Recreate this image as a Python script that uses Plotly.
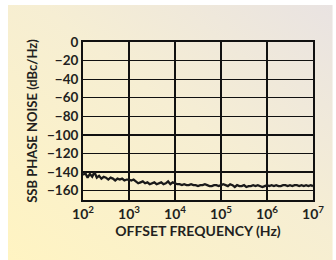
import base64
import plotly.graph_objects as go

# Offset frequency exponents (log10 Hz), 20 points per decade
freq_exp = [2 + i / 20 for i in range(101)]
freq_hz = [10 ** e for e in freq_exp]

# SSB phase noise readings (dBc/Hz)
noise_dbc = [
    -143, -141, -146, -142, -145, -140, -146, -144, -147, -145,
    -146, -148, -146, -147, -149, -147, -148, -147, -149, -148,
    -148, -149, -148, -150, -152, -151, -150, -152, -151, -153,
    -152, -151, -153, -152, -151, -153, -152, -150, -153, -151,
    -152, -153, -153, -154, -153, -154, -154, -153, -154, -154,
    -155, -154, -154, -153, -154, -155, -155, -154, -154, -155,
    -154, -153, -154, -155, -153, -154, -156, -154, -155, -155,
    -154, -156, -155, -155, -154, -155, -154, -155, -156, -155,
    -154, -155, -154, -155, -154, -155, -155, -154, -154, -155,
    -154, -155, -154, -154, -155, -154, -155, -154, -155, -154,
    -155,
]

x_tickvals = [1e2, 1e3, 1e4, 1e5, 1e6, 1e7]
x_ticktext = ["10<sup>2</sup>", "10<sup>3</sup>", "10<sup>4</sup>",
              "10<sup>5</sup>", "10<sup>6</sup>", "10<sup>7</sup>"]
y_tickvals = [0, -20, -40, -60, -80, -100, -120, -140, -160]
y_ticktext = ["0", "\u221220", "\u221240", "\u221260", "\u221280",
              "\u2212100", "\u2212120", "\u2212140", "\u2212160"]

FONT = "Lato"
INK = "#231f20"

svg = (
    '<svg xmlns="http://www.w3.org/2000/svg" width="329" height="255" '
    'preserveAspectRatio="none" viewBox="0 0 329 255">'
    '<defs><linearGradient id="g" x1="0" y1="1" x2="1" y2="0">'
    '<stop offset="0" stop-color="#fff4c2"/>'
    '<stop offset="0.55" stop-color="#f6eed3"/>'
    '<stop offset="1" stop-color="#e9e3e2"/>'
    '</linearGradient></defs>'
    '<rect width="329" height="255" fill="url(#g)"/></svg>'
)
bg_src = "data:image/svg+xml;base64," + base64.b64encode(svg.encode()).decode()

fig = go.Figure()
fig.add_trace(go.Scatter(
    x=freq_hz, y=noise_dbc, mode="lines",
    line=dict(color="#1a1a1a", width=2.3),
    showlegend=False, hoverinfo="skip",
))

L, R, T, B = 83, 20, 42, 60
W, H = 336, 260
pw, ph = W - L - R, H - T - B

fig.add_layout_image(dict(
    source=bg_src, xref="paper", yref="paper",
    x=(7 - L) / pw, y=(H - B - 5) / ph,
    sizex=(W - 7) / pw, sizey=(H - 5) / ph,
    sizing="stretch", xanchor="left", yanchor="top", layer="below",
))

fig.update_layout(
    width=W, height=H,
    margin=dict(l=L, r=R, t=T, b=B),
    paper_bgcolor="white", plot_bgcolor="white",
    font=dict(family=FONT, color=INK),
    xaxis=dict(
        type="log", range=[2, 7],
        tickvals=x_tickvals, ticktext=x_ticktext,
        tickfont=dict(size=14, family=FONT, weight="bold", color=INK),
        showgrid=True, gridcolor="#111", gridwidth=1.3,
        showline=True, linecolor="#111", linewidth=2, mirror=True,
        ticks="", ticklen=0,
        title=dict(text="OFFSET FREQUENCY (Hz)", standoff=4,
                   font=dict(size=14, family=FONT, weight="bold", color=INK)),
        zeroline=False,
    ),
    yaxis=dict(
        range=[-170, 0],
        tickvals=y_tickvals, ticktext=y_ticktext,
        tickfont=dict(size=13.5, family=FONT, weight="bold", color=INK),
        showgrid=True, gridcolor="#111", gridwidth=1.3,
        showline=True, linecolor="#111", linewidth=2, mirror=True,
        ticks="", ticklen=0,
        title=dict(text="SSB PHASE NOISE (dBc/Hz)", standoff=6,
                   font=dict(size=13, family=FONT, weight="bold", color=INK)),
        zeroline=False,
    ),
)

fig.write_html(
    "out.html",
    config={"displayModeBar": False, "staticPlot": True},
    post_script="document.body.style.margin='0';document.body.style.padding='0';"
                "document.documentElement.style.overflow='hidden';",
)
